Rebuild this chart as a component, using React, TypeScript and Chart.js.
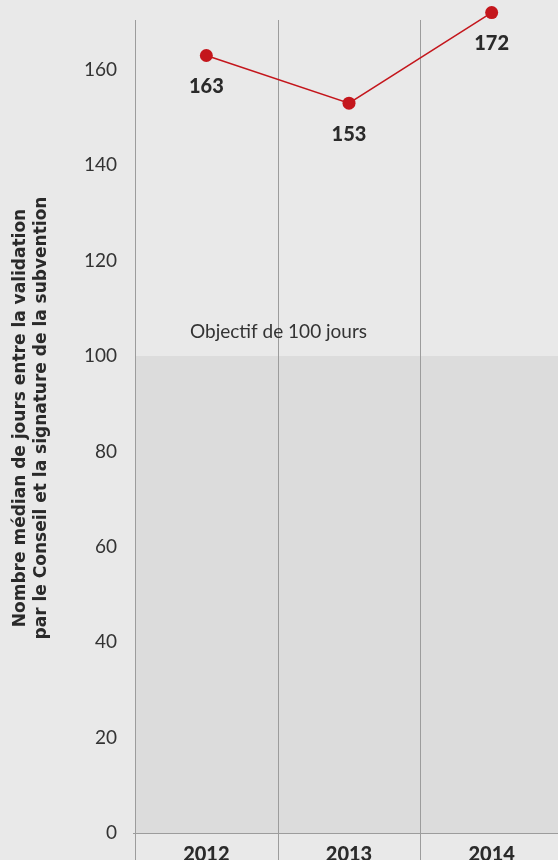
import React, { useEffect, useRef } from 'react';
import { Chart, registerables } from 'chart.js';

Chart.register(...registerables);

// Data
const years = ['2012', '2013', '2014'];
const medianDays = [163, 153, 172];
const targetDays = 100;
const yMin = 0;
const yMax = 174;
const yStep = 20;
const axisTitleLines = [
  'Nombre médian de jours entre la validation',
  'par le Conseil et la signature de la subvention',
];
const targetLabel = 'Objectif de 100 jours';

// Styles
const FONT = 'Lato, "Noto Sans", sans-serif';
const TITLE_FONT = '"DejaVu Sans", Lato, sans-serif';
const BG = '#e9e9e9';
const TARGET_ZONE = '#dcdcdc';
const RULE = '#9c9c9c';
const RED = '#c4161c';
const TEXT = '#2a2a2a';

const backdropPlugin = {
  id: 'backdrop',
  beforeDraw(chart: any) {
    const { ctx, chartArea, scales } = chart;
    const x = scales.x;
    const y = scales.y;
    ctx.save();
    ctx.fillStyle = BG;
    ctx.fillRect(0, 0, chart.width, chart.height);

    // shaded zone under the target
    const yTarget = y.getPixelForValue(targetDays);
    const yZero = y.getPixelForValue(0);
    ctx.fillStyle = TARGET_ZONE;
    ctx.fillRect(chartArea.left, yTarget, chartArea.right - chartArea.left, yZero - yTarget);

    // column separators (axis line + category boundaries)
    ctx.strokeStyle = RULE;
    ctx.lineWidth = 1;
    const lineTop = chartArea.top + 17;
    const bounds: number[] = [chartArea.left];
    for (let i = 0; i < years.length - 1; i++) {
      bounds.push((x.getPixelForValue(i) + x.getPixelForValue(i + 1)) / 2);
    }
    bounds.forEach((bx) => {
      const px = Math.round(bx) + 0.5;
      ctx.beginPath();
      ctx.moveTo(px, lineTop);
      ctx.lineTo(px, chart.height);
      ctx.stroke();
    });

    // zero baseline
    const py = Math.round(yZero) + 0.5;
    ctx.beginPath();
    ctx.moveTo(chartArea.left - 2, py);
    ctx.lineTo(chartArea.right, py);
    ctx.stroke();
    ctx.restore();
  },
  afterDraw(chart: any) {
    const { ctx, chartArea, scales } = chart;
    const y = scales.y;
    ctx.save();
    // target caption
    ctx.font = `19px ${FONT}`;
    ctx.fillStyle = '#333333';
    ctx.textAlign = 'left';
    ctx.textBaseline = 'middle';
    ctx.fillText(targetLabel, chartArea.left + 55, y.getPixelForValue(targetDays) - 24);

    // value labels under each point
    const meta = chart.getDatasetMeta(0);
    ctx.font = `900 20px ${FONT}`;
    ctx.fillStyle = TEXT;
    ctx.textAlign = 'center';
    meta.data.forEach((pt: any, i: number) => {
      ctx.fillText(String(medianDays[i]), pt.x, pt.y + 31);
    });
    ctx.restore();
  },
};

function MedianDaysChart() {
  const canvasRef = useRef<HTMLCanvasElement | null>(null);

  useEffect(() => {
    if (!canvasRef.current) return;
    const chart = new Chart(canvasRef.current, {
      type: 'line',
      data: {
        labels: years,
        datasets: [
          {
            data: medianDays,
            borderColor: RED,
            borderWidth: 1.5,
            backgroundColor: RED,
            pointBackgroundColor: RED,
            pointBorderWidth: 0,
            pointRadius: 6.5,
            tension: 0,
            clip: false as any,
          },
        ],
      },
      options: {
        animation: false,
        responsive: true,
        maintainAspectRatio: false,
        layout: { autoPadding: false, padding: { top: 3, left: 0, right: 0, bottom: 0 } },
        plugins: {
          legend: { display: false },
          tooltip: { enabled: false },
        },
        scales: {
          x: {
            type: 'category',
            offset: true,
            grid: { display: false, drawTicks: false },
            border: { display: false },
            ticks: {
              padding: 10,
              color: TEXT,
              font: { family: FONT, size: 20, weight: '900' as any },
              maxRotation: 0,
            },
            afterFit(scale: any) {
              scale.height = 27;
              scale.paddingLeft = 0;
              scale.paddingRight = 0;
            },
          },
          y: {
            min: yMin,
            max: yMax,
            grid: { display: false, drawTicks: false },
            border: { display: false },
            ticks: {
              stepSize: yStep,
              padding: 18,
              color: '#333333',
              font: { family: FONT, size: 19 },
            },
            afterBuildTicks(scale: any) {
              scale.ticks = scale.ticks.filter((t: any) => t.value % yStep === 0);
            },
            afterFit(scale: any) {
              scale.width = 135;
              scale.paddingTop = 0;
              scale.paddingBottom = 0;
            },
            title: {
              display: true,
              text: axisTitleLines,
              color: TEXT,
              padding: { top: 10, bottom: 0 },
              font: { family: TITLE_FONT, size: 17, weight: 'bold', lineHeight: 1.25 },
            },
          },
        },
      },
      plugins: [backdropPlugin],
    });
    return () => chart.destroy();
  }, []);

  return (
    <div
      style={{
        position: 'fixed',
        left: 0,
        top: 0,
        width: 558,
        height: 860,
        overflow: 'hidden',
        background: BG,
      }}
    >
      <div style={{ position: 'relative', width: 563, height: 860 }}>
        <canvas ref={canvasRef} />
      </div>
    </div>
  );
}

export default function App() {
  return <MedianDaysChart />;
}
